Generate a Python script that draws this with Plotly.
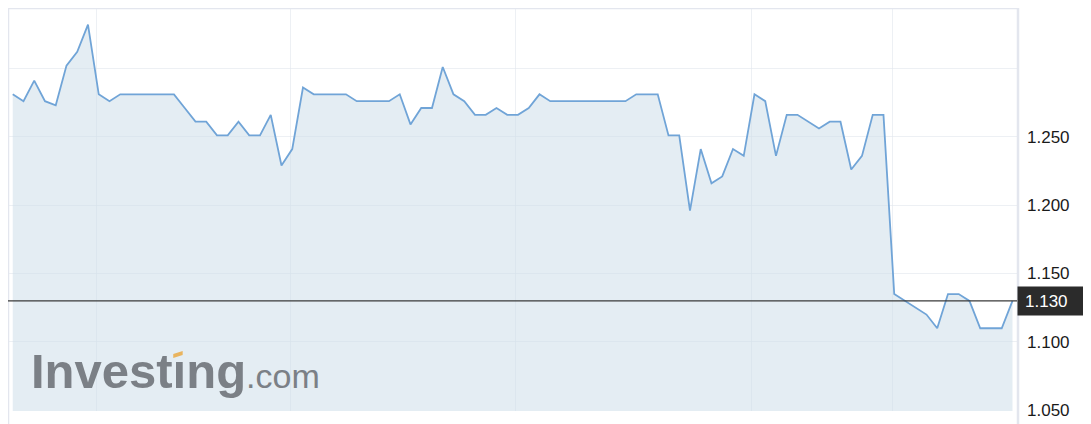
import plotly.graph_objects as go

# price series, one point per session
prices = [
    1.281, 1.276, 1.291, 1.276, 1.273, 1.302, 1.312, 1.332, 1.281, 1.276,
    1.281, 1.281, 1.281, 1.281, 1.281, 1.281, 1.271, 1.261, 1.261, 1.251,
    1.251, 1.261, 1.251, 1.251, 1.266, 1.229, 1.241, 1.286, 1.281, 1.281,
    1.281, 1.281, 1.276, 1.276, 1.276, 1.276, 1.281, 1.259, 1.271, 1.271,
    1.301, 1.281, 1.276, 1.266, 1.266, 1.271, 1.266, 1.266, 1.271, 1.281,
    1.276, 1.276, 1.276, 1.276, 1.276, 1.276, 1.276, 1.276, 1.281, 1.281,
    1.281, 1.251, 1.251, 1.196, 1.241, 1.216, 1.221, 1.241, 1.236, 1.281,
    1.276, 1.236, 1.266, 1.266, 1.261, 1.256, 1.261, 1.261, 1.226, 1.236,
    1.266, 1.266, 1.135, 1.130, 1.125, 1.120, 1.110, 1.135, 1.135, 1.130,
    1.110, 1.110, 1.110, 1.130,
]
sessions = list(range(len(prices)))
last_price = 1.130

y_ticks = [1.05, 1.10, 1.15, 1.20, 1.25, 1.30]
y_labels = ["1.050", "1.100", "1.150", "1.200", "1.250", ""]
# date gridlines (no labels shown on the chart)
x_grid = [7.75, 25.8, 46.8, 68.7, 81.8]

fig = go.Figure()
fig.add_trace(go.Scatter(
    x=sessions, y=prices, mode="lines",
    line=dict(color="#70a4d7", width=1.8),
    fill="tozeroy", fillcolor="rgba(205,222,234,0.55)",
    hoverinfo="skip",
))

# page body has an 8px margin, so the figure is sized to fill the rest of the window
fig.update_layout(
    width=1083, height=416,
    margin=dict(l=0, r=74, t=0, b=13),
    paper_bgcolor="white", plot_bgcolor="white",
    showlegend=False,
    font=dict(family="Arial, Liberation Sans, sans-serif"),
)
fig.update_xaxes(
    range=[-0.44, 93.42], tickvals=x_grid, showticklabels=False,
    showgrid=True, gridcolor="rgba(225,230,236,0.6)", gridwidth=1,
    zeroline=False, showline=False,
)
fig.update_yaxes(
    range=[1.0495, 1.3441], side="right",
    tickvals=y_ticks, ticktext=y_labels,
    tickfont=dict(size=17, color="#1a1a1a"), ticklabelstandoff=9,
    showgrid=True, gridcolor="rgba(225,230,236,0.6)", gridwidth=1,
    zeroline=False, showline=False,
)

frame = "#e3e6ee"
fig.add_shape(type="line", xref="paper", yref="paper", x0=0, x1=1.001, y0=1.0, y1=1.0,
              line=dict(color=frame, width=2.5))
fig.add_shape(type="line", xref="paper", yref="paper", x0=0, x1=0, y0=-0.05, y1=1.0,
              line=dict(color=frame, width=2.5))
fig.add_shape(type="line", xref="paper", yref="paper", x0=1.001, x1=1.001, y0=-0.05, y1=1.0,
              line=dict(color=frame, width=2.5))

# current price line + label
fig.add_shape(type="line", xref="paper", yref="y", x0=0, x1=1.0, y0=last_price, y1=last_price,
              line=dict(color="#3a3a3a", width=1.4))
fig.add_annotation(
    xref="paper", yref="y", x=1.0, y=last_price, xanchor="left", yanchor="middle",
    text=f"{last_price:.3f}", showarrow=False, align="left",
    font=dict(size=17, color="white"), bgcolor="#2b2b2b",
    width=51, height=14, borderpad=7,
)

# watermark
fig.add_annotation(
    xref="paper", yref="paper", x=0.021, y=0.027, xanchor="left", yanchor="bottom",
    text="<b>Invest\u0131ng</b><span style='font-size:34px'>.com</span>",
    showarrow=False, font=dict(size=49, color="#7b8086", family="Arial, Liberation Sans, sans-serif"),
)
fig.add_shape(type="path", xref="paper", yref="paper", layer="above",
              path="M 0.1638 0.1315 L 0.1638 0.1414 L 0.1731 0.1489 L 0.1731 0.139 Z",
              fillcolor="#e9b45e", line=dict(width=0))

fig.write_html("out.html")
